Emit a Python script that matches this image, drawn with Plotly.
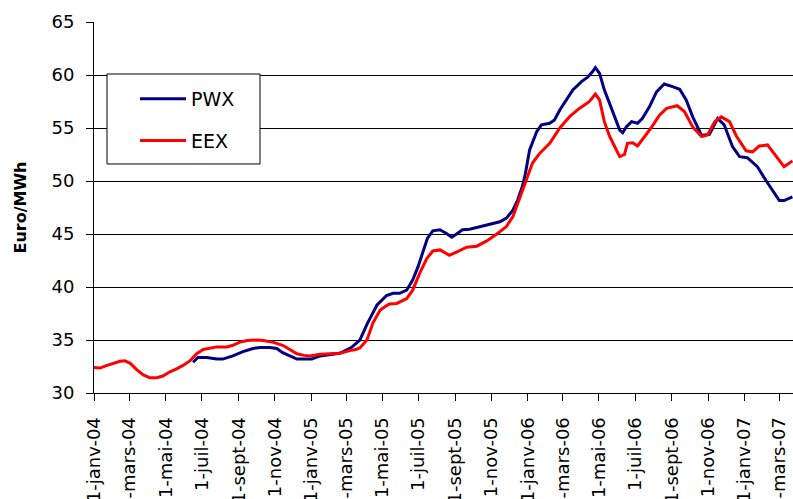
import plotly.graph_objects as go

# EEX (red) series
eex_dates = [
    "2004-01-01", "2004-01-11", "2004-01-23", "2004-02-02", "2004-02-14", "2004-02-22",
    "2004-03-02", "2004-03-13", "2004-03-24", "2004-04-04", "2004-04-16", "2004-04-26",
    "2004-05-08", "2004-05-20", "2004-05-30", "2004-06-11", "2004-06-22", "2004-07-03",
    "2004-07-14", "2004-07-26", "2004-08-12", "2004-08-22", "2004-09-03", "2004-09-15",
    "2004-10-01", "2004-10-12", "2004-10-28", "2004-11-14", "2004-11-26", "2004-12-08",
    "2004-12-20", "2004-12-30", "2005-01-16", "2005-02-01", "2005-02-18", "2005-03-07",
    "2005-03-17", "2005-03-24", "2005-04-05", "2005-04-15", "2005-04-27", "2005-05-07",
    "2005-05-13", "2005-05-25", "2005-06-11", "2005-06-21", "2005-07-03", "2005-07-15",
    "2005-07-25", "2005-08-06", "2005-08-22", "2005-09-03", "2005-09-20", "2005-10-07",
    "2005-10-24", "2005-11-10", "2005-11-26", "2005-12-07", "2005-12-15", "2005-12-23",
    "2005-12-30", "2006-01-09", "2006-01-21", "2006-02-07", "2006-02-24", "2006-03-13",
    "2006-03-29", "2006-04-15", "2006-04-25", "2006-05-02", "2006-05-10", "2006-05-19",
    "2006-05-27", "2006-06-05", "2006-06-13", "2006-06-18", "2006-06-27", "2006-07-05",
    "2006-07-17", "2006-07-29", "2006-08-11", "2006-08-23", "2006-09-10", "2006-09-22",
    "2006-10-06", "2006-10-21", "2006-10-31", "2006-11-12", "2006-11-23", "2006-12-07",
    "2006-12-19", "2007-01-04", "2007-01-15", "2007-01-26", "2007-02-09", "2007-02-24",
    "2007-03-09", "2007-03-23",
]
eex_values = [
    32.4, 32.35, 32.6, 32.8, 33.0, 33.05,
    32.8, 32.2, 31.7, 31.45, 31.45, 31.6,
    32.0, 32.3, 32.6, 33.05, 33.7, 34.1,
    34.25, 34.35, 34.35, 34.5, 34.8, 34.95,
    35.0, 34.95, 34.8, 34.5, 34.1, 33.7,
    33.55, 33.5, 33.65, 33.7, 33.75, 34.0,
    34.1, 34.25, 35.0, 36.6, 37.8, 38.2,
    38.4, 38.45, 38.9, 39.7, 41.3, 42.7,
    43.4, 43.5, 43.0, 43.3, 43.75, 43.85,
    44.35, 45.0, 45.7, 46.65, 47.9, 49.1,
    50.1, 51.7, 52.6, 53.55, 55.0, 56.1,
    56.85, 57.5, 58.2, 57.65, 55.6, 54.2,
    53.3, 52.3, 52.5, 53.55, 53.6, 53.3,
    54.2, 55.1, 56.2, 56.85, 57.1, 56.55,
    55.1, 54.2, 54.35, 55.6, 56.05, 55.6,
    54.2, 52.85, 52.75, 53.3, 53.4, 52.3,
    51.35, 51.9,
]

# PWX (navy) series
pwx_dates = [
    "2004-06-16", "2004-06-24", "2004-07-09", "2004-07-26", "2004-08-05", "2004-08-22",
    "2004-09-08", "2004-09-25", "2004-10-07", "2004-10-23", "2004-11-04", "2004-11-14",
    "2004-11-26", "2004-12-08", "2004-12-21", "2005-01-02", "2005-01-16", "2005-02-01",
    "2005-02-18", "2005-03-07", "2005-03-12", "2005-03-24", "2005-04-06", "2005-04-22",
    "2005-04-30", "2005-05-08", "2005-05-19", "2005-05-30", "2005-06-11", "2005-06-21",
    "2005-06-30", "2005-07-08", "2005-07-16", "2005-07-25", "2005-08-06", "2005-08-17",
    "2005-08-26", "2005-09-03", "2005-09-13", "2005-09-25", "2005-10-12", "2005-10-29",
    "2005-11-15", "2005-11-26", "2005-12-07", "2005-12-15", "2005-12-23", "2005-12-28",
    "2006-01-04", "2006-01-16", "2006-01-24", "2006-02-07", "2006-02-15", "2006-02-24",
    "2006-03-07", "2006-03-18", "2006-04-02", "2006-04-12", "2006-04-20", "2006-04-25",
    "2006-05-02", "2006-05-10", "2006-05-19", "2006-05-27", "2006-06-05", "2006-06-10",
    "2006-06-16", "2006-06-25", "2006-07-05", "2006-07-13", "2006-07-25", "2006-08-06",
    "2006-08-19", "2006-09-02", "2006-09-14", "2006-09-25", "2006-10-06", "2006-10-21",
    "2006-11-03", "2006-11-17", "2006-11-28", "2006-12-12", "2006-12-24", "2007-01-06",
    "2007-01-23", "2007-02-07", "2007-02-21", "2007-03-01", "2007-03-09", "2007-03-23",
]
pwx_values = [
    32.9, 33.35, 33.35, 33.2, 33.2, 33.5,
    33.9, 34.2, 34.3, 34.3, 34.2, 33.8,
    33.5, 33.2, 33.2, 33.2, 33.5, 33.65,
    33.75, 34.2, 34.4, 35.0, 36.6, 38.3,
    38.8, 39.2, 39.4, 39.4, 39.7, 40.65,
    41.9, 43.3, 44.6, 45.3, 45.4, 45.05,
    44.7, 45.0, 45.4, 45.45, 45.7, 45.95,
    46.15, 46.5, 47.25, 48.2, 49.5, 50.7,
    52.9, 54.65, 55.3, 55.45, 55.75, 56.7,
    57.65, 58.6, 59.4, 59.8, 60.3, 60.7,
    60.15, 58.6, 57.3, 56.05, 54.8, 54.55,
    55.1, 55.6, 55.45, 55.9, 57.0, 58.4,
    59.15, 58.9, 58.65, 57.65, 56.05, 54.3,
    54.4, 55.9, 55.3, 53.25, 52.3, 52.2,
    51.35, 50.0, 48.8, 48.15, 48.15, 48.5,
]

tick_vals = [
    "2004-01-01", "2004-03-01", "2004-05-01", "2004-07-01", "2004-09-01", "2004-11-01",
    "2005-01-01", "2005-03-01", "2005-05-01", "2005-07-01", "2005-09-01", "2005-11-01",
    "2006-01-01", "2006-03-01", "2006-05-01", "2006-07-01", "2006-09-01", "2006-11-01",
    "2007-01-01", "2007-03-01",
]
tick_text = [
    "1-janv-04", "1-mars-04", "1-mai-04", "1-juil-04", "1-sept-04", "1-nov-04",
    "1-janv-05", "1-mars-05", "1-mai-05", "1-juil-05", "1-sept-05", "1-nov-05",
    "1-janv-06", "1-mars-06", "1-mai-06", "1-juil-06", "1-sept-06", "1-nov-06",
    "1-janv-07", "1-mars-07",
]

FONT = "DejaVu Sans"

fig = go.Figure()
fig.add_trace(go.Scatter(
    x=pwx_dates, y=pwx_values, name="PWX", mode="lines",
    line=dict(color="#000080", width=3), legendgroup="a",
))
fig.add_trace(go.Scatter(
    x=eex_dates, y=eex_values, name="EEX", mode="lines",
    line=dict(color="#FF0000", width=3), legendgroup="b",
))

# legend frame (white box hiding the gridlines behind the legend)
fig.add_shape(
    type="rect", xref="paper", yref="paper",
    x0=0.0186, x1=0.2375, y0=0.6173, y1=0.8598,
    fillcolor="white", line=dict(color="black", width=1), layer="above",
)

fig.update_layout(
    width=793, height=499,
    margin=dict(l=94, r=0, t=22, b=106, autoexpand=False),
    paper_bgcolor="white", plot_bgcolor="white",
    font=dict(family=FONT, color="black"),
    showlegend=True,
    legend=dict(
        x=0.0587, y=0.8436, xanchor="left", yanchor="top",
        bgcolor="rgba(0,0,0,0)", borderwidth=0,
        font=dict(family=FONT, size=19, color="black"),
        traceorder="grouped", tracegroupgap=14,
        itemwidth=46,
    ),
    xaxis=dict(
        type="date", automargin=False,
        range=["2004-01-01", "2007-03-24"],
        tickmode="array", tickvals=tick_vals, ticktext=tick_text,
        tickangle=-90, ticks="outside", ticklen=7, tickcolor="black",
        ticklabelstandoff=9,
        tickfont=dict(family=FONT, size=18, color="black"),
        showgrid=False, showline=True, linecolor="black", linewidth=1,
        zeroline=False,
    ),
    yaxis=dict(
        automargin=False,
        range=[30, 65], tick0=30, dtick=5,
        ticks="outside", ticklen=7, tickcolor="black",
        ticklabelstandoff=8,
        tickfont=dict(family=FONT, size=18, color="black"),
        showgrid=True, gridcolor="black", gridwidth=1,
        showline=True, linecolor="black", linewidth=1,
        zeroline=False,
        title=dict(text="<b>Euro/MWh</b>", font=dict(family=FONT, size=16, color="black"), standoff=20),
    ),
)

fig.write_html(
    "out.html",
    config={"displayModeBar": False},
    post_script="document.body.style.margin='0';document.body.style.overflow='hidden';",
)
